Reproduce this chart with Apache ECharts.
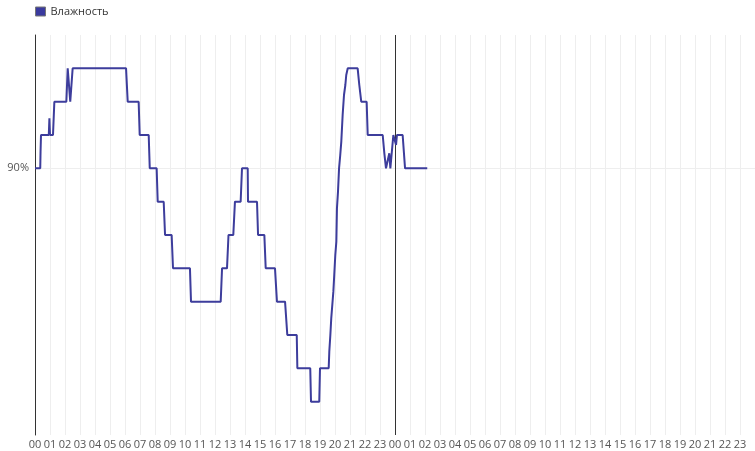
<!DOCTYPE html>
<html>
<head>
<meta charset="utf-8">
<script src="https://cdn.jsdelivr.net/npm/echarts@6/dist/echarts.min.js"></script>
<style>html,body{margin:0;padding:0;background:#fff}#c{width:755px;height:451px}</style>
</head>
<body>
<div id="c"></div>
<script>
const seriesName = 'Влажность';
// time in hours from start of first day
const hours = [0, 0.35, 0.37, 0.40, 0.92, 0.96, 1.0, 1.2, 1.29, 2.09, 2.18, 2.28, 2.35, 2.45, 2.51,
  6.07, 6.18, 6.91, 6.98, 7.58, 7.65, 8.11, 8.18, 8.58, 8.67, 9.11, 9.2, 10.33, 10.4,
  12.38, 12.47, 12.8, 12.9, 13.22, 13.33, 13.71, 13.8, 14.18, 14.2, 14.8, 14.87, 15.29, 15.38,
  16.0, 16.13, 16.67, 16.82, 17.45, 17.49, 18.35, 18.4, 18.95, 19.0,
  19.58, 19.62, 19.69, 19.75, 19.89, 19.95, 20.02, 20.09, 20.13, 20.2, 20.27, 20.35, 20.42, 20.51, 20.6, 20.69, 20.75, 20.85,
  21.51, 21.62, 21.75, 22.11, 22.18,
  23.18, 23.29, 23.4, 23.53, 23.62, 23.69, 23.8, 23.89, 24.0, 24.07, 24.13, 24.51, 24.67, 26.15];
const humidity = [90, 90, 90.5, 91, 91, 91.5, 91, 91, 92, 92, 93, 93, 92, 92, 93,
  93, 92, 92, 91, 91, 90, 90, 89, 89, 88, 88, 87, 87, 86,
  86, 87, 87, 88, 88, 89, 89, 90, 90, 89, 89, 88, 88, 87,
  87, 86, 86, 85, 85, 84, 84, 83, 83, 84,
  84, 84.5, 85, 85.5, 86.3, 86.8, 87.4, 87.8, 88.8, 89.3, 90, 90.4, 90.8, 91.6, 92.2, 92.5, 92.8, 93,
  93, 92.5, 92, 92, 91,
  91, 90.45, 90, 90, 90.45, 90, 90, 91, 91, 90.7, 91, 91, 90, 90];
const hourLabels = ['00','01','02','03','04','05','06','07','08','09','10','11','12','13','14','15','16','17','18','19','20','21','22','23'];
const yMarkValue = 90;
const dayBoundary = 24;

const data = hours.map((h, i) => [h, humidity[i]]);
const chart = echarts.init(document.getElementById('c'));
chart.setOption({
  animation: false,
  textStyle: { fontFamily: 'Open Sans' },
  legend: {
    left: 30, top: 1,
    icon: 'rect', itemWidth: 10, itemHeight: 9, itemGap: 5,
    textStyle: { fontSize: 11, color: '#333', fontFamily: 'Open Sans' },
    data: [{ name: seriesName, itemStyle: { color: '#3a3a9e', borderColor: '#777', borderWidth: 1 } }]
  },
  grid: { left: 35, right: 0, top: 35, bottom: 16 },
  xAxis: {
    type: 'value', min: 0, max: 48, interval: 1,
    axisLine: { show: false }, axisTick: { show: false },
    axisLabel: { showMaxLabel: false, margin: 4, fontSize: 11, color: '#555', fontFamily: 'Open Sans',
      formatter: v => hourLabels[Math.round(v) % 24] },
    splitLine: { show: true, lineStyle: { color: '#eeeeee', width: 1 } }
  },
  yAxis: {
    type: 'value', min: 82, max: 94, interval: 2,
    axisLine: { show: true, lineStyle: { color: '#333', width: 1 } },
    axisTick: { show: false },
    axisLabel: { fontSize: 11, color: '#555', margin: 6, fontFamily: 'Open Sans',
      formatter: v => (v === yMarkValue ? v + '%' : '') },
    splitLine: { show: false }
  },
  series: [{
    name: seriesName, type: 'line', data: data,
    showSymbol: false, symbol: 'none',
    lineStyle: { color: '#3d3d9c', width: 2 },
    itemStyle: { color: '#3a3a9e' },
    z: 3,
    markLine: {
      z: 1, silent: true, symbol: 'none', label: { show: false },
      data: [
        { yAxis: yMarkValue, lineStyle: { color: '#eeeeee', width: 1, type: 'solid' } },
        { xAxis: dayBoundary, lineStyle: { color: '#333', width: 1, type: 'solid' } }
      ]
    }
  }]
});
</script>
</body>
</html>
